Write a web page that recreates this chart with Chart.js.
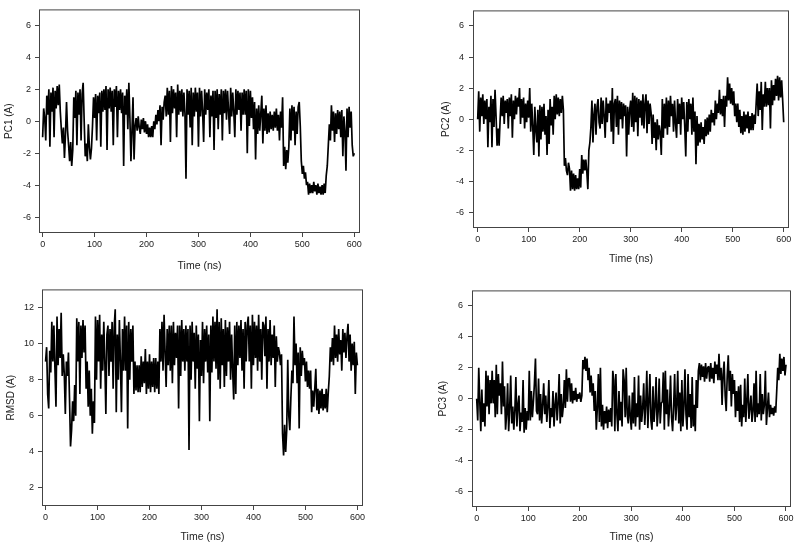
<!DOCTYPE html>
<html><head><meta charset="utf-8">
<script src="https://cdn.jsdelivr.net/npm/chart.js@4.4.1/dist/chart.umd.min.js"></script>
<style>
html,body{margin:0;padding:0;background:#fff;}
body{width:800px;height:547px;position:relative;overflow:hidden;}
canvas{position:absolute;}
</style></head><body>
<canvas id="c1" width="400" height="272" style="left:0px;top:0px;width:400px;height:272px"></canvas>
<canvas id="c2" width="400" height="265" style="left:400px;top:0px;width:400px;height:265px"></canvas>
<canvas id="c3" width="400" height="263" style="left:0px;top:280px;width:400px;height:263px"></canvas>
<canvas id="c4" width="400" height="263" style="left:400px;top:280px;width:400px;height:263px"></canvas>
<script>
// sampling step of the time axis (ns); one row below = 30 ns
const timeStep = 2;
const xTicks = [0, 100, 200, 300, 400, 500, 600];
const pcTicks = [-6, -4, -2, 0, 2, 4, 6];
const rmsdTicks = [2, 4, 6, 8, 10, 12];

const pc1 = [
 -1.0, 0.8, 0.2, -1.2, 1.6, 0.4, 2.0, -1.6, 1.8, 0.6, 2.1, -1.0, 1.9, 0.8, 2.2,
 1.0, 2.3, 0.6, -0.5, -1.4, -0.4, -2.3, -0.8, 1.2, -0.6, -1.5, -2.5, -1.3, -2.8, -1.8,
 1.5, 0.2, 1.9, -1.5, 1.8, 0.4, 2.0, -1.2, 1.7, 2.4, 0.0, -2.2, -1.4, -2.5, -0.2,
 -1.6, -2.4, -1.7, -0.3, 1.5, 0.2, 1.7, -1.2, 1.6, 0.5, 1.8, -1.6, 1.9, 0.6, 2.0,
 0.7, 2.2, -1.8, 2.0, 0.8, 2.1, 0.6, 1.9, -1.5, 2.0, 0.9, 2.2, -1.0, 1.9, 0.7,
 2.0, 0.5, 1.8, -2.8, 1.6, 0.4, 2.0, -0.5, 2.4, 0.2, -2.5, -0.6, 1.5, -2.4, -0.3,
 0.2, -0.6, 0.3, -0.4, -0.8, 0.1, -0.5, 0.2, -0.7, 0.0, -0.8, -0.2, -1.0, -0.4, -1.0,
 -0.3, -1.0, 0.0, -0.5, 0.4, -0.2, 0.7, 0.0, 1.0, -1.5, 0.9, 0.1, 1.2, 1.6, 0.3,
 2.1, 0.4, 1.9, -1.3, 2.2, 0.5, 2.0, 0.8, 1.8, -1.0, 2.3, 0.4, 1.9, 0.6, 2.0,
 0.3, 1.8, 0.5, -3.6, 2.0, 0.4, 1.9, -0.4, 2.1, -1.5, 1.8, 0.3, 2.1, 0.6, 1.8,
 -1.6, 2.1, 0.3, 1.9, 0.6, -1.3, 2.0, 0.4, 1.8, 0.7, 2.0, -1.0, 1.6, 0.3, 1.9,
 -1.8, 1.9, 0.2, 2.0, -0.5, 1.7, 0.4, 2.0, -1.2, 1.9, 0.5, 2.0, 0.1, 1.9, 0.6,
 -0.8, 2.1, 0.3, 1.8, 0.6, -1.0, 2.0, 0.4, 1.9, 0.7, 1.8, -0.6, 1.8, 0.4, 2.0,
 0.4, 1.9, -2.0, 2.0, -0.3, 1.9, 0.2, 1.5, -0.5, 1.2, -2.4, 0.8, -0.8, 1.0, -0.6,
 0.5, 1.6, -1.4, 0.8, -0.6, 1.0, -0.8, 0.5, -0.7, 0.6, -0.5, 0.4, -0.6, 0.6, -0.4,
 0.8, -0.6, 0.4, -1.2, 0.6, -0.4, 1.5, -2.8, -1.6, -3.0, -1.8, -2.6, -1.6, 0.8, -1.2,
 1.0, -0.6, 0.9, -1.5, 0.6, -0.8, 0.9, 1.2, -0.3, -2.5, -3.3, -2.8, -3.6, -3.2, -4.0,
 -3.8, -4.6, -3.9, -4.5, -4.0, -4.5, -3.8, -4.4, -4.0, -4.6, -3.9, -4.5, -4.1, -4.6, -4.0,
 -4.6, -3.9, -4.5, -3.4, -2.8, -1.5, -0.2, -1.2, 1.0, -0.6, 0.6, -1.3, 0.5, -0.8, 0.7,
 -0.5, 0.6, -1.0, 0.7, -2.2, 0.3, -0.6, -3.1, 0.8, -1.0, 0.9, -0.4, 0.6, -1.5, -2.2,
 -2.0
];

const pc2 = [
 0.0, 1.8, -0.8, 1.4, 0.2, 1.6, -0.3, 1.2, 0.0, 1.3, -1.8, 0.8, -0.2, 1.5, -1.8,
 1.3, -0.5, 1.9, 0.2, -1.7, -0.6, -1.7, 0.0, 1.4, 0.2, 1.5, -0.3, 1.2, 0.4, 1.3,
 -0.6, 1.4, 0.2, 1.6, -1.2, 1.2, 0.0, 1.5, 0.3, 1.4, 0.8, 2.0, -0.3, 1.3, 0.1,
 1.4, -0.6, 1.0, -0.2, 1.2, 0.1, 2.0, -0.8, 1.0, -0.5, -2.3, 0.8, -0.7, -1.5, 0.6,
 -2.4, 0.9, -1.3, 0.8, -0.8, 1.0, -1.0, 0.2, -2.3, 0.6, -1.6, 1.3, -0.4, 0.8, -1.0,
 1.5, 0.0, 1.6, 0.3, 1.4, 0.2, 1.3, 0.4, 1.5, 0.6, -3.0, -2.5, -3.3, -3.6, -2.8,
 -3.2, -4.6, -3.3, -4.5, -3.5, -4.6, -3.6, -4.5, -3.8, -4.5, -3.2, -4.4, -2.3, -3.5, -2.6,
 -3.3, -2.6, -3.4, -4.5, -2.0, -1.5, -0.5, 1.2, -1.5, 0.3, 1.0, -1.0, 0.8, 1.3, -0.2,
 -0.6, 1.4, -0.3, 1.2, 0.2, -1.2, 1.4, -0.2, 1.0, 0.4, 1.2, -0.8, 2.0, -1.6, 1.0,
 1.3, -0.5, 1.5, -1.0, 1.2, 0.0, 1.1, -0.6, 1.0, 0.2, 0.9, -2.4, 0.8, -1.0, 0.6,
 1.2, -0.5, 1.7, -0.8, 1.5, -0.2, 1.4, -1.1, 1.3, 0.1, 1.2, -0.4, 1.6, -0.6, 1.0,
 1.6, -0.9, 1.2, -0.3, 1.0, 0.4, -1.6, 0.3, -1.2, -0.2, -2.0, 0.0, -1.3, -0.4, -0.9,
 -2.3, 1.3, -1.2, 1.0, -0.6, 1.4, -1.0, 1.2, -0.5, 1.5, 0.2, 1.0, -0.8, 1.2, -0.3,
 -1.2, 1.3, -0.3, 1.0, -1.0, 1.4, 0.0, 1.1, -0.5, -2.4, 1.1, -0.8, 1.3, 0.0, 1.0,
 -1.0, 1.4, -0.8, 0.5, -2.9, 0.2, -1.7, -0.3, -1.5, -0.2, -1.3, -0.5, -1.6, 0.0, -1.1,
 0.1, -1.0, 0.3, -0.8, 0.6, -0.2, 0.4, -0.4, 1.2, 0.0, 1.0, 0.4, 1.9, 0.3, 1.3,
 0.2, 1.5, -0.5, 1.5, 0.8, 2.7, 1.2, 2.3, 1.0, 2.0, 0.9, 1.8, 0.2, 1.0, -0.2,
 1.0, -0.5, 0.6, -0.9, 0.2, -1.0, 0.5, -0.8, 0.3, -0.6, 0.5, -0.9, 0.2, -0.7, 0.4,
 -0.7, 0.3, -0.3, 1.0, 2.3, 0.2, 1.8, 0.6, 2.4, -0.7, 1.6, 0.8, 2.4, 0.8, 2.0,
 0.9, 2.0, -0.6, 2.5, 0.9, 2.2, 1.2, 2.6, 1.5, 2.8, 1.2, 2.7, 1.4, 2.5, 1.2,
 -0.2
];

const rmsd = [
 9.0, 9.8, 7.2, 6.4, 9.6, 8.4, 11.2, 9.0, 11.0, 8.6, 6.5, 11.5, 8.8, 10.8, 9.2,
 11.7, 8.2, 9.4, 8.3, 6.1, 9.0, 8.2, 9.5, 7.0, 4.3, 5.2, 6.8, 5.7, 7.7, 6.0,
 11.4, 9.0, 11.2, 7.2, 11.0, 9.2, 11.3, 9.5, 11.0, 7.5, 9.0, 6.5, 8.5, 6.0, 7.5,
 5.0, 6.8, 5.6, 11.5, 8.0, 11.3, 9.0, 11.6, 7.5, 10.5, 8.5, 11.2, 9.0, 6.1, 10.5,
 11.0, 8.2, 10.8, 9.0, 11.2, 7.5, 10.9, 11.9, 6.2, 10.5, 8.0, 11.3, 9.0, 6.2, 10.8,
 8.5, 11.5, 8.5, 11.0, 5.3, 11.2, 8.0, 10.8, 9.0, 11.0, 7.2, 9.0, 7.4, 8.8, 7.3,
 8.8, 7.3, 9.3, 7.6, 9.0, 7.8, 9.7, 7.2, 9.0, 7.5, 9.4, 7.3, 9.0, 7.6, 9.2,
 7.3, 9.2, 7.5, 9.0, 7.2, 10.8, 9.0, 11.2, 8.5, 11.6, 9.5, 7.6, 10.8, 8.8, 11.0,
 8.5, 11.0, 7.8, 11.2, 8.8, 10.6, 9.2, 11.0, 6.4, 11.0, 8.2, 11.3, 9.0, 10.8, 8.5,
 11.0, 9.0, 10.8, 4.1, 11.0, 8.0, 11.2, 9.0, 10.6, 7.5, 11.0, 8.6, 10.5, 5.7, 10.2,
 8.2, 11.2, 7.8, 10.8, 9.0, 11.0, 8.4, 10.5, 5.7, 11.0, 8.4, 11.5, 9.0, 11.2, 8.6,
 11.9, 8.0, 11.2, 7.5, 11.4, 8.8, 10.8, 7.6, 11.3, 8.2, 10.9, 9.0, 11.2, 8.0, 10.5,
 8.5, 6.9, 11.0, 7.2, 11.2, 8.8, 11.0, 9.2, 11.3, 8.5, 10.8, 7.5, 11.2, 9.0, 11.0,
 11.5, 9.0, 11.0, 7.5, 11.6, 8.8, 11.2, 9.2, 11.0, 8.5, 11.6, 9.0, 10.8, 8.0, 11.2,
 11.0, 9.3, 11.5, 7.5, 10.8, 9.0, 11.3, 8.8, 10.5, 9.2, 11.0, 7.6, 10.4, 9.0, 9.8,
 9.5, 8.8, 9.4, 5.0, 3.8, 5.5, 4.0, 5.2, 9.1, 6.0, 5.2, 7.0, 8.5, 7.8, 11.5,
 8.8, 10.0, 7.8, 9.5, 5.3, 9.8, 8.2, 9.6, 8.8, 9.2, 7.9, 9.0, 7.6, 8.5, 7.5,
 8.5, 6.2, 7.4, 6.5, 7.5, 8.6, 6.3, 7.5, 6.1, 7.4, 6.4, 7.5, 6.3, 7.2, 6.4,
 7.5, 6.2, 7.3, 8.2, 9.8, 9.0, 10.3, 8.8, 11.0, 9.2, 10.5, 9.0, 10.8, 9.4, 10.2,
 8.5, 10.8, 9.5, 10.6, 9.2, 10.4, 11.1, 9.0, 10.5, 8.5, 10.0, 8.8, 10.1, 7.2, 9.5,
 8.8
];

const pc3 = [
 0.0, -1.4, 2.0, -0.2, -2.1, 0.6, -1.5, -0.3, -1.8, 1.8, -0.5, 1.5, -1.0, 1.2, -0.3,
 1.8, -0.3, 1.2, -1.2, 2.2, -1.0, 1.6, 0.2, 1.0, -1.0, 2.4, -0.5, 0.8, -2.0, -1.0,
 1.0, -2.1, -0.6, 1.5, -1.6, -0.5, -2.0, -0.8, 1.4, -1.8, -0.4, 0.2, -2.1, -0.9, -1.5,
 1.2, -2.2, -0.6, -2.0, -0.8, -1.4, 1.8, -1.4, 0.5, -1.2, -0.2, 1.0, 2.6, -0.8, -1.0,
 1.3, -1.4, 0.3, -1.6, -0.4, 1.0, -1.0, 0.2, -1.5, -0.5, 1.2, -1.9, -0.6, -1.2, 0.5,
 -1.8, -0.4, 0.4, -1.4, -0.3, 1.6, -1.6, 0.3, -1.2, -0.5, 1.2, -0.6, 1.9, -0.2, 1.3,
 1.3, -0.2, 1.0, -0.3, 0.5, -0.1, 0.7, -0.2, 0.3, 0.0, 0.4, -0.2, 0.2, 2.5, 1.9,
 2.7, 1.8, 2.6, 1.2, 2.0, 0.4, 1.5, 0.2, 1.0, -0.8, 0.5, -2.0, -0.6, 1.6, -1.5,
 2.0, -1.8, -0.4, -2.0, -0.8, -1.6, -0.5, -1.9, -0.7, -1.5, -0.6, -1.8, 1.8, 1.2, -2.1,
 1.6, -1.0, -2.1, 0.5, -1.4, -0.2, -1.8, 1.9, 1.2, -1.2, 2.0, -1.0, -1.6, 0.2, -1.2,
 -2.0, 0.4, -1.6, 1.4, -1.8, -0.3, -1.2, 1.5, -2.0, 0.2, -1.5, -0.6, 1.0, -1.7, -0.4,
 1.8, -1.9, -0.2, 1.6, -1.4, -2.0, 0.8, -1.5, -0.5, 1.4, -1.8, -0.8, 1.3, -1.6, -0.3,
 -0.2, 1.7, -2.0, 1.8, -1.0, 0.6, -1.8, -0.6, 1.5, -1.2, -2.1, -0.5, 1.6, -1.4, -0.4,
 1.8, -1.6, 0.4, -2.1, 1.2, -1.8, -0.5, 1.9, -1.0, -2.0, 1.6, -1.2, 0.3, -1.9, 1.4,
 -1.8, -0.4, -2.1, 1.2, -0.6, 1.8, 2.3, 1.2, 2.2, 1.4, 2.1, 1.1, 2.3, 1.3, 2.0,
 2.1, 1.1, 2.3, 1.3, 2.0, 1.0, 2.4, 1.6, 2.2, 1.2, 2.9, 1.2, 2.0, -0.4, 1.6,
 2.4, 0.2, -0.8, 1.5, 2.8, 0.5, 1.8, -0.5, 1.6, 0.3, 1.2, -1.2, 0.5, -0.8, 0.8,
 -1.5, 0.9, -1.8, -0.4, -1.2, 1.3, -1.5, -0.2, 1.6, -1.3, -0.6, 0.2, -1.5, -0.8, 1.0,
 -1.5, 1.8, -1.2, -0.3, -1.0, 1.6, -1.4, 0.3, -1.0, -0.4, 1.8, -1.7, -0.6, 0.4, -1.2,
 -0.4, -1.0, -0.6, -1.1, -0.5, -0.9, 0.5, 2.0, 1.2, 2.9, 1.6, 2.6, 1.8, 2.7, 1.5,
 2.2
];

const frame = {
  id: 'frame',
  afterDraw(chart) {
    const {ctx, chartArea: a} = chart;
    ctx.save();
    ctx.strokeStyle = '#444';
    ctx.lineWidth = 1;
    ctx.strokeRect(a.left + 0.5, a.top + 0.5, a.right - a.left - 1, a.bottom - a.top - 1);
    ctx.restore();
  }
};

function panel(id, values, cfg) {
  const time = values.map((_, i) => i * timeStep);
  const pts = values.map((v, i) => ({x: time[i], y: v}));
  new Chart(document.getElementById(id), {
    type: 'line',
    data: { datasets: [{ data: pts, borderColor: '#000', borderWidth: 1.7, borderJoinStyle: 'bevel', pointRadius: 0, tension: 0, fill: false }] },
    plugins: [frame],
    options: {
      responsive: false, animation: false, events: [],
      layout: { autoPadding: false, padding: cfg.pad },
      plugins: { legend: { display: false }, tooltip: { enabled: false } },
      scales: {
        x: {
          type: 'linear', min: cfg.xMin, max: cfg.xMax,
          afterBuildTicks: s => { s.ticks = xTicks.map(v => ({value: v})); },
          afterFit: s => { s.height = cfg.xh; },
          grid: { drawOnChartArea: false, drawTicks: true, tickLength: 4, color: '#444' },
          border: { display: false },
          ticks: { autoSkip: false, maxRotation: 0, padding: 3, color: '#222', font: { family: 'Liberation Sans, Arial, sans-serif', size: 9, lineHeight: 1.1 } },
          title: { display: true, text: 'Time (ns)', color: '#222', padding: { top: 0, bottom: 0 }, font: { family: 'Liberation Sans, Arial, sans-serif', size: 10.5, lineHeight: 1.2 } }
        },
        y: {
          min: cfg.yMin, max: cfg.yMax,
          afterBuildTicks: s => { s.ticks = cfg.yTicks.map(v => ({value: v})); },
          afterFit: s => { s.width = cfg.yw; },
          grid: { drawOnChartArea: false, drawTicks: true, tickLength: 4, color: '#444' },
          border: { display: false },
          ticks: { padding: cfg.tp, color: '#222', font: { family: 'Liberation Sans, Arial, sans-serif', size: 9 } },
          title: { display: true, text: cfg.yTitle, color: '#222', padding: { top: cfg.ttp, bottom: 0 }, font: { family: 'Liberation Sans, Arial, sans-serif', size: 10, lineHeight: 1.2 } }
        }
      }
    }
  });
}

panel('c1', pc1, { pad: {left: 0, top: 7, right: 40, bottom: 0}, yw: 39, xh: 39, xMin: -7, xMax: 611, yMin: -7, yMax: 7, yTicks: pcTicks, yTitle: 'PC1 (A)', ttp: 3.5, tp: 4 });
panel('c2', pc2, { pad: {left: 0, top: 7, right: 11, bottom: 0}, yw: 73, xh: 37, xMin: -9.2, xMax: 610.4, yMin: -7, yMax: 7, yTicks: pcTicks, yTitle: 'PC2 (A)', ttp: 40, tp: 5 });
panel('c3', rmsd, { pad: {left: 0, top: 9, right: 37, bottom: 0}, yw: 42, xh: 37, xMin: -6.9, xMax: 610.8, yMin: 1, yMax: 13, yTicks: rmsdTicks, yTitle: 'RMSD (A)', ttp: 5.7, tp: 4 });
panel('c4', pc3, { pad: {left: 0, top: 3, right: 9, bottom: 0}, yw: 72, xh: 36, xMin: -9.1, xMax: 609.7, yMin: -7, yMax: 7, yTicks: pcTicks, yTitle: 'PC3 (A)', ttp: 37.3, tp: 5 });
</script>
</body></html>
